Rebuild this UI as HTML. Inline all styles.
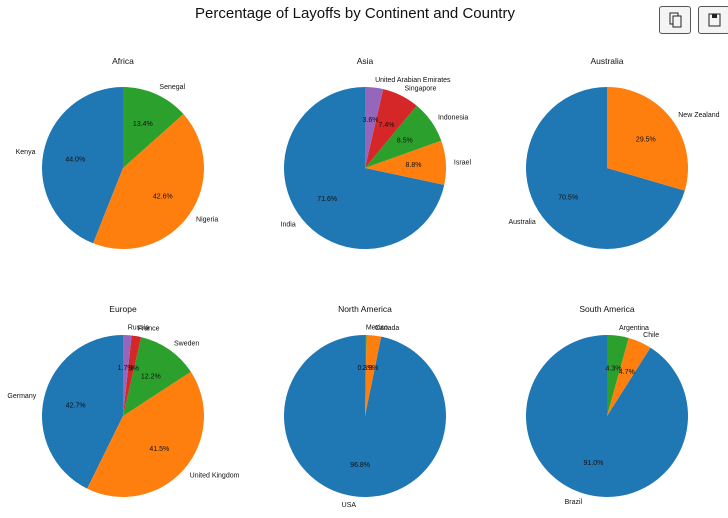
<!DOCTYPE html>
<html><head><meta charset="utf-8"><style>
body{margin:0;background:#fff;width:728px;height:518px;overflow:hidden;font-family:"Liberation Sans","DejaVu Sans",sans-serif}
.btn{position:absolute;top:6px;width:30px;height:26px;border:1px solid #555;border-radius:3px;background:#f4f4f4}
</style></head><body>
<svg id="chart" width="728" height="518" style="position:absolute;left:0;top:0">
<text x="355" y="18" text-anchor="middle" font-size="15" fill="#111">Percentage of Layoffs by Continent and Country</text>
</svg>
<div class="btn" style="left:659px"><svg width="30" height="26"><rect x="10" y="6" width="8" height="11" fill="none" stroke="#222"/><rect x="13" y="9" width="8" height="11" fill="#f4f4f4" stroke="#222"/></svg></div>
<div class="btn" style="left:698px"><svg width="30" height="26"><rect x="10" y="7" width="11" height="12" fill="none" stroke="#222"/><rect x="13" y="7" width="5" height="4" fill="#222"/></svg></div>
<script>
const continents=["Africa","Asia","Australia","Europe","North America","South America"];
const countries=[["Kenya","Nigeria","Senegal"],["India","Israel","Indonesia","Singapore","United Arabian Emirates"],["Australia","New Zealand"],["Germany","United Kingdom","Sweden","France","Russia"],["USA","Canada","Mexico"],["Brazil","Chile","Argentina"]];
const shares=[[44.0,42.6,13.4],[71.6,8.8,8.5,7.4,3.6],[70.5,29.5],[42.7,41.5,12.2,1.9,1.7],[96.8,2.9,0.3],[91.0,4.7,4.3]];
const colors=["#1f77b4","#ff7f0e","#2ca02c","#d62728","#9467bd"];
const svg=document.getElementById('chart');const NS="http://www.w3.org/2000/svg";
const cxs=[123,365,607],cys=[168,416],R=81;
function mk(t,a){const e=document.createElementNS(NS,t);for(const k in a)e.setAttribute(k,a[k]);svg.appendChild(e);return e;}
continents.forEach((c,i)=>{
  const cx=cxs[i%3],cy=cys[Math.floor(i/3)];
  const tt=mk('text',{x:cx,y:cy-104,'text-anchor':'middle','font-size':8.5,fill:'#111'});tt.textContent=c;
  
  
  const vals=shares[i];const tot=vals.reduce((a,b)=>a+b,0);
  let a0=90;
  vals.forEach((v,j)=>{
    const sw=v/tot*360,a1=a0+sw,rad=d=>d*Math.PI/180;
    const x0=cx+R*Math.cos(rad(a0)),y0=cy-R*Math.sin(rad(a0)),x1=cx+R*Math.cos(rad(a1)),y1=cy-R*Math.sin(rad(a1));
    const p=mk('path',{d:`M${cx},${cy}L${x0},${y0}A${R},${R} 0 ${sw>180?1:0} 0 ${x1},${y1}Z`,fill:colors[j%5]});
    
    
    const m=rad(a0+sw/2),ca=Math.cos(m),sa=Math.sin(m);
    const lb=mk('text',{x:cx+1.1*R*ca,y:cy-1.1*R*sa+2.5,'text-anchor':ca>=0?'start':'end','font-size':7,fill:'#111'});
    lb.textContent=countries[i][j];
    
    
    const pc=mk('text',{x:cx+0.6*R*ca,y:cy-0.6*R*sa+2.5,'text-anchor':'middle','font-size':7,fill:'#111'});
    pc.textContent=v.toFixed(1)+'%';
    
    
    a0=a1;
  });
});
</script>
</body></html>
